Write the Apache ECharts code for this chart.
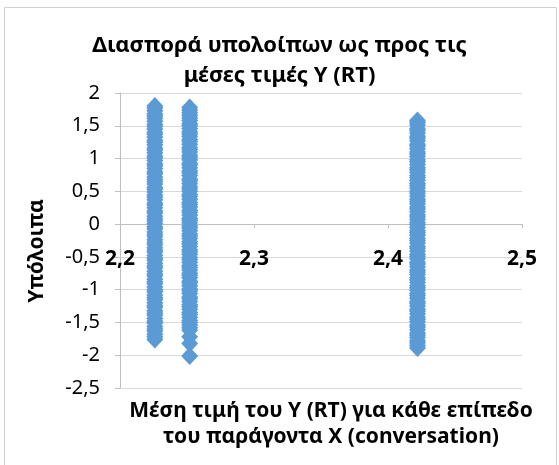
<!DOCTYPE html>
<html><head><meta charset="utf-8">
<script src="https://cdn.jsdelivr.net/npm/echarts@6/dist/echarts.min.js"></script>
<style>html,body{margin:0;padding:0;background:#fff}#c{width:559px;height:465px}</style>
</head><body><div id="c"></div>
<script>
const chartTitle = 'Διασπορά υπολοίπων ως προς τις\nμέσες τιμές Y (RT)';
const yAxisTitle = 'Υπόλοιπα';
const xAxisTitle = 'Μέση τιμή του Y (RT) για κάθε επίπεδο\nτου παράγοντα X (conversation)';
const xTickValues = [2.2, 2.3, 2.4, 2.5];
const xTickLabels = ['2,2', '2,3', '2,4', '2,5'];
const yTickValues = [-2.5, -2, -1.5, -1, -0.5, 0, 0.5, 1, 1.5, 2];
const yTickLabels = ['-2,5', '-2', '-1,5', '-1', '-0,5', '0', '0,5', '1', '1,5', '2'];

const col1X = 2.226;
const col1Y = [1.80,1.77,1.73,1.68,1.65,1.61,1.57,1.52,1.49,1.45,1.40,1.37,1.33,1.28,1.25,1.21,1.16,1.13,1.09,1.04,1.01,0.97,0.92,0.89,0.85,0.80,0.77,0.72,0.68,0.65,0.61,0.56,0.53,0.49,0.44,0.41,0.37,0.32,0.29,0.25,0.20,0.17,0.12,0.08,0.05,0.01,-0.04,-0.07,-0.12,-0.16,-0.19,-0.24,-0.28,-0.31,-0.36,-0.40,-0.43,-0.48,-0.52,-0.55,-0.60,-0.64,-0.67,-0.72,-0.76,-0.79,-0.84,-0.88,-0.91,-0.96,-1.00,-1.03,-1.08,-1.12,-1.15,-1.20,-1.24,-1.27,-1.32,-1.36,-1.39,-1.44,-1.48,-1.51,-1.56,-1.60,-1.63,-1.68,-1.72,-1.76];
const col2X = 2.252;
const col2Y = [1.78,1.74,1.70,1.66,1.62,1.58,1.53,1.50,1.46,1.41,1.38,1.34,1.29,1.26,1.22,1.17,1.14,1.10,1.05,1.02,0.98,0.93,0.90,0.86,0.81,0.78,0.74,0.69,0.66,0.62,0.57,0.54,0.50,0.45,0.42,0.38,0.33,0.30,0.26,0.21,0.18,0.14,0.09,0.06,0.02,-0.03,-0.06,-0.10,-0.15,-0.18,-0.22,-0.27,-0.30,-0.34,-0.39,-0.42,-0.46,-0.51,-0.54,-0.58,-0.63,-0.66,-0.70,-0.75,-0.78,-0.82,-0.87,-0.90,-0.94,-0.99,-1.02,-1.06,-1.11,-1.14,-1.18,-1.23,-1.26,-1.30,-1.35,-1.38,-1.42,-1.47,-1.50,-1.54,-1.58,-1.62,-1.72,-1.82,-2.01];
const col3X = 2.422;
const col3Y = [1.58,1.55,1.51,1.46,1.43,1.39,1.34,1.31,1.27,1.22,1.19,1.15,1.10,1.07,1.03,0.98,0.95,0.91,0.86,0.83,0.79,0.74,0.71,0.67,0.62,0.59,0.55,0.50,0.47,0.43,0.38,0.35,0.31,0.26,0.23,0.19,0.14,0.11,0.07,0.02,-0.01,-0.05,-0.10,-0.13,-0.17,-0.22,-0.25,-0.29,-0.34,-0.37,-0.41,-0.46,-0.49,-0.53,-0.58,-0.61,-0.65,-0.70,-0.73,-0.77,-0.82,-0.85,-0.89,-0.94,-0.97,-1.01,-1.06,-1.09,-1.13,-1.18,-1.21,-1.25,-1.30,-1.33,-1.37,-1.42,-1.45,-1.49,-1.54,-1.57,-1.61,-1.66,-1.69,-1.73,-1.78,-1.81,-1.85,-1.89];

const points = []
  .concat(col1Y.map(v => [col1X, v]))
  .concat(col2Y.map(v => [col2X, v]))
  .concat(col3Y.map(v => [col3X, v]));

function lookup(vals, labels, v) {
  for (let i = 0; i < vals.length; i++) if (Math.abs(vals[i] - v) < 1e-6) return labels[i];
  return '';
}

const FONT = '"Noto Sans", "Open Sans", sans-serif';
const GRID_TOP = 93, GRID_H = 295;
const Y_MIN = -2.5, Y_MAX = 2;
// place the x axis where y = 0 (offset upward from the grid bottom)
const zeroOffset = -GRID_H * (0 - Y_MIN) / (Y_MAX - Y_MIN);

const chart = echarts.init(document.getElementById('c'), null, {renderer: 'canvas'});
chart.setOption({
  animation: false,
  backgroundColor: '#fff',
  title: {
    text: chartTitle,
    left: 'center',
    top: 26,
    textStyle: {fontFamily: FONT, fontSize: 22, fontWeight: 'bold', color: '#000', lineHeight: 30}
  },
  grid: {left: 120, top: GRID_TOP, width: 402, height: GRID_H, containLabel: false},
  xAxis: {
    type: 'value', min: 2.2, max: 2.5, interval: 0.1,
    position: 'bottom', offset: zeroOffset,
    axisLine: {onZero: false, lineStyle: {color: '#bfbfbf', width: 1}},
    axisTick: {show: true, inside: false, length: 4, lineStyle: {color: '#bfbfbf'}},
    splitLine: {show: false},
    axisLabel: {
      margin: 24, fontFamily: FONT, fontSize: 21, fontWeight: 'bold', color: '#000',
      formatter: v => lookup(xTickValues, xTickLabels, v)
    }
  },
  yAxis: {
    type: 'value', min: Y_MIN, max: Y_MAX, interval: 0.5,
    axisLine: {show: true, onZero: false, lineStyle: {color: '#bfbfbf'}},
    axisTick: {show: true, length: 5, lineStyle: {color: '#bfbfbf'}},
    splitLine: {show: true, lineStyle: {color: '#d9d9d9'}},
    axisLabel: {
      margin: 20, fontFamily: FONT, fontSize: 20, color: '#000',
      formatter: v => lookup(yTickValues, yTickLabels, v)
    }
  },
  graphic: [
    {type: 'rect', shape: {x: 4.5, y: 7.5, width: 552, height: 470}, style: {fill: 'none', stroke: '#d0d0d0', lineWidth: 1}, silent: true},
    {type: 'text', x: 37, y: 251, rotation: Math.PI / 2,
     style: {text: yAxisTitle, align: 'center', verticalAlign: 'middle', fontFamily: FONT, fontSize: 21, fontWeight: 'bold', fill: '#000'}},
    {type: 'text', x: 331, y: 398, style: {text: xAxisTitle, align: 'center', fontFamily: FONT, fontSize: 21, fontWeight: 'bold', fill: '#000', lineHeight: 26}}
  ],
  series: [{
    type: 'scatter',
    data: points,
    symbol: 'diamond',
    symbolSize: [17, 18],
    itemStyle: {color: '#5b9bd5', opacity: 1}
  }]
});
</script>
</body></html>
